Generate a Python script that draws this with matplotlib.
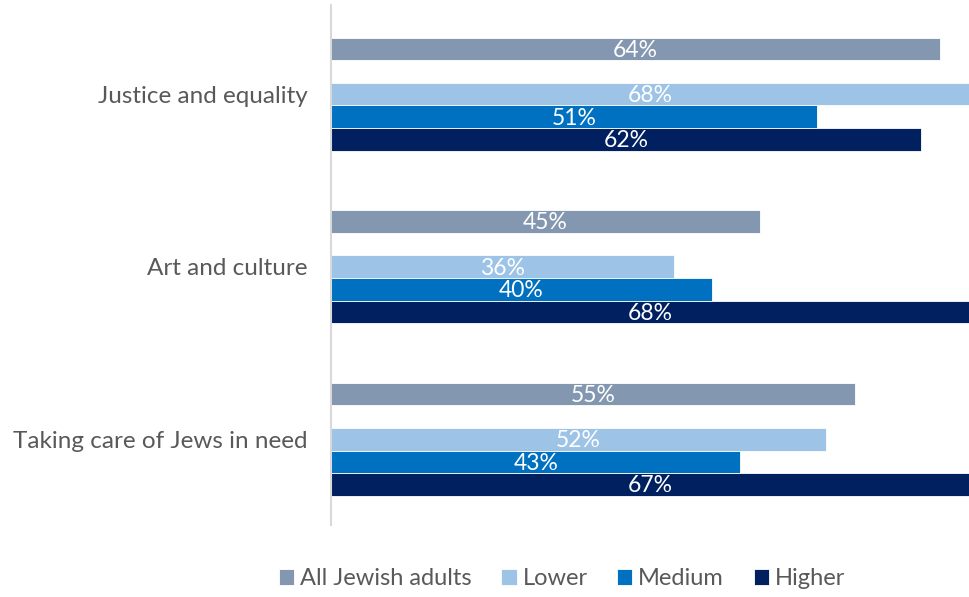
import matplotlib.pyplot as plt
import numpy as np

plt.rcParams['font.family'] = ['Lato', 'DejaVu Sans']

categories = ["Justice and equality", "Art and culture", "Taking care of Jews in need"]
series = ["All Jewish adults", "Lower", "Medium", "Higher"]
values = {
    "All Jewish adults": [64, 45, 55],
    "Lower": [68, 36, 52],
    "Medium": [51, 40, 43],
    "Higher": [62, 68, 67],
}
colors = ["#8497B0", "#9DC3E6", "#0070C0", "#002060"]

# slot offsets within a group: the overall bar sits apart, one empty slot below it
offsets = [-2, 0, 1, 2]
group_step = 7.65
bar_h = 1.0

fig = plt.figure(figsize=(9.69, 5.97), dpi=100)
ax = fig.add_axes([0.3416, 0.1206, 0.6584, 0.871])

centers = np.arange(len(categories)) * group_step
for name, off, col in zip(series, offsets, colors):
    vals = values[name]
    bars = ax.barh(centers + off, vals, height=bar_h, color=col,
                   edgecolor="white", linewidth=0.6, label=name)
    for b, v in zip(bars, vals):
        ax.text(min(v, 67) / 2, b.get_y() + bar_h / 2 + 0.06, f"{v}%",
                ha="center", va="center", color="white", fontsize=16.5)

ax.set_xlim(0, 67)
ax.set_ylim(centers[-1] + 3.8, centers[0] - 3.95)
ax.set_yticks(centers)
ax.set_yticklabels(categories, fontsize=17.5, color="#595959")
ax.tick_params(axis="y", length=0, pad=17)
ax.set_xticks([])
for s in ["top", "right", "bottom"]:
    ax.spines[s].set_visible(False)
ax.spines["left"].set_color("#d9d9d9")
ax.spines["left"].set_linewidth(1.5)

handles, labels = ax.get_legend_handles_labels()
fig.legend(handles, labels, loc="center", bbox_to_anchor=(0.58, 0.031), ncol=4,
           frameon=False, fontsize=17, handlelength=0.65, handleheight=0.65,
           handletextpad=0.25, columnspacing=1.25, labelcolor="#595959")

fig.savefig("out.png", dpi=100)
